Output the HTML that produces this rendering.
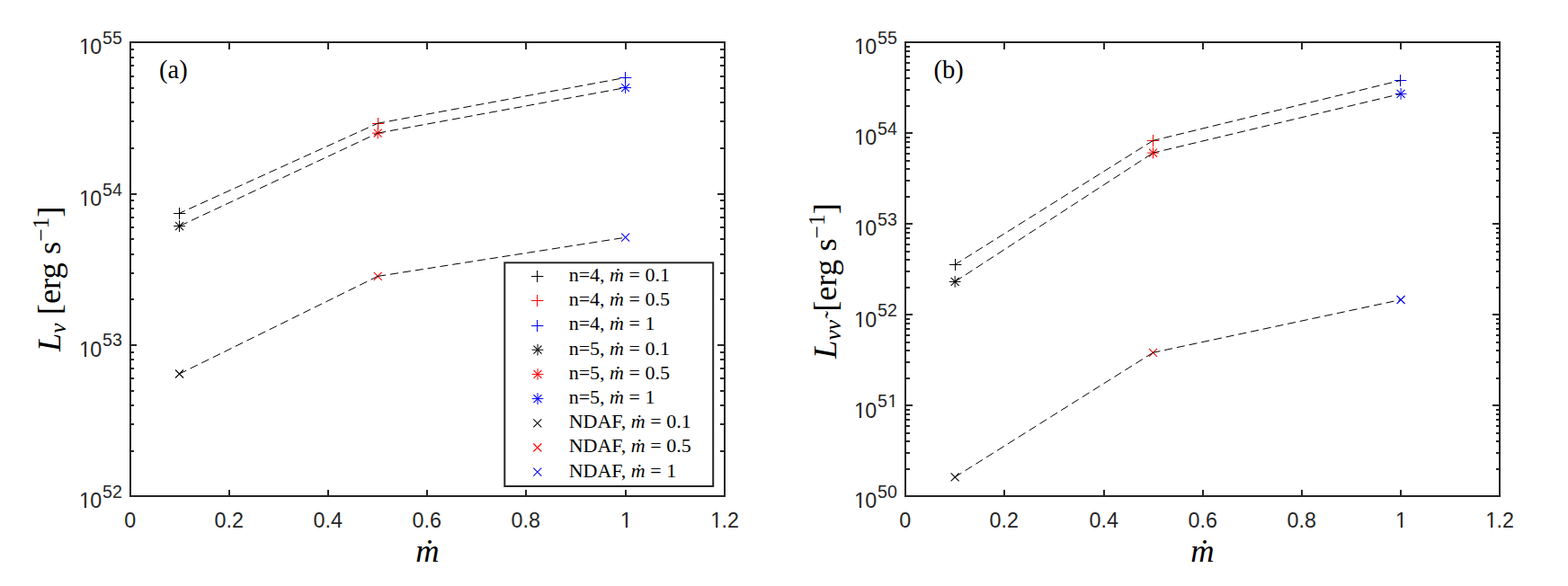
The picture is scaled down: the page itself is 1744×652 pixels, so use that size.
<!DOCTYPE html>
<html><head><meta charset="utf-8"><title>Neutrino luminosity vs accretion rate</title>
<style>
html,body{margin:0;padding:0;background:#fff;}
body{width:1744px;height:652px;overflow:hidden;font-family:"Liberation Sans",sans-serif;}
svg{display:block;}
.tk{font-family:"Liberation Sans",sans-serif;font-size:23.3px;fill:#262626;}
.sr{font-family:"Liberation Serif","DejaVu Serif",serif;fill:#000;}
</style></head>
<body>
<svg width="1744" height="652" viewBox="0 0 1744 652">
<rect width="1744" height="652" fill="#fff"/>
<path d="M193.00 237.50h13.4M199.50 231.00v13.0" stroke="#000" stroke-width="1" fill="none"/>
<path d="M414.00 137.50h13.4M420.50 131.00v13.0" stroke="#f00" stroke-width="1" fill="none"/>
<path d="M689.00 86.50h13.4M695.50 80.00v13.0" stroke="#00f" stroke-width="1" fill="none"/>
<path d="M193.15 251.60h12.8M199.55 245.20v12.8" stroke="#000" stroke-width="1" fill="none"/><path d="M195.05 247.10l9.0 9.0M195.05 256.10l9.0 -9.0" stroke="#000" stroke-width="1.08" fill="none"/>
<path d="M413.80 148.10h12.8M420.20 141.70v12.8" stroke="#f00" stroke-width="1" fill="none"/><path d="M415.70 143.60l9.0 9.0M415.70 152.60l9.0 -9.0" stroke="#f00" stroke-width="1.08" fill="none"/>
<path d="M689.25 97.60h12.8M695.65 91.20v12.8" stroke="#00f" stroke-width="1" fill="none"/><path d="M691.15 93.10l9.0 9.0M691.15 102.10l9.0 -9.0" stroke="#00f" stroke-width="1.08" fill="none"/>
<path d="M195.05 411.50l9.0 9.0M195.05 420.50l9.0 -9.0" stroke="#000" stroke-width="1.08" fill="none"/>
<path d="M415.70 302.90l9.0 9.0M415.70 311.90l9.0 -9.0" stroke="#f00" stroke-width="1.08" fill="none"/>
<path d="M691.15 259.70l9.0 9.0M691.15 268.70l9.0 -9.0" stroke="#00f" stroke-width="1.08" fill="none"/>
<line x1="199.55" y1="237.30" x2="420.20" y2="137.20" stroke="#000" stroke-width="1" stroke-dasharray="9.1 4.9" stroke-dashoffset="2.3"/>
<line x1="420.20" y1="137.20" x2="695.65" y2="86.40" stroke="#000" stroke-width="1" stroke-dasharray="9.1 4.9" stroke-dashoffset="1.2"/>
<line x1="199.55" y1="251.60" x2="420.20" y2="148.10" stroke="#000" stroke-width="1" stroke-dasharray="9.1 4.9" stroke-dashoffset="-0.8"/>
<line x1="420.20" y1="148.10" x2="695.65" y2="97.60" stroke="#000" stroke-width="1" stroke-dasharray="9.1 4.9" stroke-dashoffset="0.1"/>
<line x1="199.55" y1="416.00" x2="420.20" y2="307.40" stroke="#000" stroke-width="1" stroke-dasharray="9.1 4.9" stroke-dashoffset="0.5"/>
<line x1="420.20" y1="307.40" x2="695.65" y2="264.20" stroke="#000" stroke-width="1" stroke-dasharray="9.1 4.9" stroke-dashoffset="0.0"/>
<path d="M255 552v-7M255 47v8M365 552v-7M365 47v8M475 552v-7M475 47v8M585 552v-7M585 47v8M696 552v-7M696 47v8M145 502h4M806 502h-5M145 472h4M806 472h-5M145 451h4M806 451h-5M145 435h4M806 435h-5M145 421h4M806 421h-5M145 410h4M806 410h-5M145 400h4M806 400h-5M145 392h4M806 392h-5M145 384h7M806 384h-8M145 333h4M806 333h-5M145 304h4M806 304h-5M145 283h4M806 283h-5M145 266h4M806 266h-5M145 253h4M806 253h-5M145 242h4M806 242h-5M145 232h4M806 232h-5M145 223h4M806 223h-5M145 216h7M806 216h-8M145 165h4M806 165h-5M145 135h4M806 135h-5M145 114h4M806 114h-5M145 98h4M806 98h-5M145 85h4M806 85h-5M145 73h4M806 73h-5M145 64h4M806 64h-5M145 55h4M806 55h-5" stroke="#262626" stroke-width="2" fill="none"/>
<rect x="145" y="47" width="661" height="505" fill="none" stroke="#262626" stroke-width="2"/>
<text x="138.32" y="587" class="tk">0</text>
<text x="238.60 251.56 258.04" y="587" class="tk">0.2</text>
<text x="348.60 361.56 368.04" y="587" class="tk">0.4</text>
<text x="458.60 471.56 478.04" y="587" class="tk">0.6</text>
<text x="568.60 581.56 588.04" y="587" class="tk">0.8</text>
<text x="690.02" y="587" class="tk">1</text>
<text x="790.30 802.56 809.04" y="587" class="tk">1.2</text>
<text x="88.07 100.33" y="565" class="tk">10</text>
<text x="114.10 125.00" y="554" class="tk" style="font-size:19.6px">52</text>
<text x="88.07 100.33" y="397" class="tk">10</text>
<text x="114.10 125.00" y="385" class="tk" style="font-size:19.6px">53</text>
<text x="88.07 100.33" y="229" class="tk">10</text>
<text x="114.10 125.00" y="218" class="tk" style="font-size:19.6px">54</text>
<text x="88.07 100.33" y="60" class="tk">10</text>
<text x="114.10 125.00" y="49" class="tk" style="font-size:19.6px">55</text>
<path d="M1056.00 294.50h13.4M1062.50 288.00v13.0" stroke="#000" stroke-width="1" fill="none"/>
<path d="M1276.00 156.50h13.4M1282.50 150.00v13.0" stroke="#f00" stroke-width="1" fill="none"/>
<path d="M1551.00 89.50h13.4M1557.50 83.00v13.0" stroke="#00f" stroke-width="1" fill="none"/>
<path d="M1055.75 313.40h12.8M1062.15 307.00v12.8" stroke="#000" stroke-width="1" fill="none"/><path d="M1057.65 308.90l9.0 9.0M1057.65 317.90l9.0 -9.0" stroke="#000" stroke-width="1.08" fill="none"/>
<path d="M1276.10 170.10h12.8M1282.50 163.70v12.8" stroke="#f00" stroke-width="1" fill="none"/><path d="M1278.00 165.60l9.0 9.0M1278.00 174.60l9.0 -9.0" stroke="#f00" stroke-width="1.08" fill="none"/>
<path d="M1551.70 104.40h12.8M1558.10 98.00v12.8" stroke="#00f" stroke-width="1" fill="none"/><path d="M1553.60 99.90l9.0 9.0M1553.60 108.90l9.0 -9.0" stroke="#00f" stroke-width="1.08" fill="none"/>
<path d="M1057.65 526.30l9.0 9.0M1057.65 535.30l9.0 -9.0" stroke="#000" stroke-width="1.08" fill="none"/>
<path d="M1278.00 387.80l9.0 9.0M1278.00 396.80l9.0 -9.0" stroke="#f00" stroke-width="1.08" fill="none"/>
<path d="M1553.60 329.00l9.0 9.0M1553.60 338.00l9.0 -9.0" stroke="#00f" stroke-width="1.08" fill="none"/>
<line x1="1062.15" y1="294.40" x2="1282.50" y2="156.40" stroke="#000" stroke-width="1" stroke-dasharray="9.1 4.9" stroke-dashoffset="0.8"/>
<line x1="1282.50" y1="156.40" x2="1558.10" y2="89.40" stroke="#000" stroke-width="1" stroke-dasharray="9.1 4.9" stroke-dashoffset="1.8"/>
<line x1="1062.15" y1="313.40" x2="1282.50" y2="170.10" stroke="#000" stroke-width="1" stroke-dasharray="9.1 4.9" stroke-dashoffset="-0.1"/>
<line x1="1282.50" y1="170.10" x2="1558.10" y2="104.40" stroke="#000" stroke-width="1" stroke-dasharray="9.1 4.9" stroke-dashoffset="1.8"/>
<line x1="1062.15" y1="530.80" x2="1282.50" y2="392.30" stroke="#000" stroke-width="1" stroke-dasharray="9.1 4.9" stroke-dashoffset="0.6"/>
<line x1="1282.50" y1="392.30" x2="1558.10" y2="333.50" stroke="#000" stroke-width="1" stroke-dasharray="9.1 4.9" stroke-dashoffset="1.05"/>
<path d="M1117 552v-7M1117 47v8M1228 552v-7M1228 47v8M1338 552v-7M1338 47v8M1448 552v-7M1448 47v8M1558 552v-7M1558 47v8M1007 522h5M1668 522h-4M1007 504h5M1668 504h-4M1007 491h5M1668 491h-4M1007 482h5M1668 482h-4M1007 474h5M1668 474h-4M1007 467h5M1668 467h-4M1007 461h5M1668 461h-4M1007 456h5M1668 456h-4M1007 451h8M1668 451h-8M1007 421h5M1668 421h-4M1007 403h5M1668 403h-4M1007 390h5M1668 390h-4M1007 381h5M1668 381h-4M1007 373h5M1668 373h-4M1007 366h5M1668 366h-4M1007 360h5M1668 360h-4M1007 355h5M1668 355h-4M1007 350h8M1668 350h-8M1007 320h5M1668 320h-4M1007 302h5M1668 302h-4M1007 289h5M1668 289h-4M1007 280h5M1668 280h-4M1007 272h5M1668 272h-4M1007 265h5M1668 265h-4M1007 259h5M1668 259h-4M1007 254h5M1668 254h-4M1007 249h8M1668 249h-8M1007 219h5M1668 219h-4M1007 201h5M1668 201h-4M1007 188h5M1668 188h-4M1007 179h5M1668 179h-4M1007 171h5M1668 171h-4M1007 164h5M1668 164h-4M1007 158h5M1668 158h-4M1007 153h5M1668 153h-4M1007 148h8M1668 148h-8M1007 118h5M1668 118h-4M1007 100h5M1668 100h-4M1007 87h5M1668 87h-4M1007 78h5M1668 78h-4M1007 70h5M1668 70h-4M1007 63h5M1668 63h-4M1007 57h5M1668 57h-4M1007 52h5M1668 52h-4" stroke="#262626" stroke-width="2" fill="none"/>
<rect x="1007" y="47" width="661" height="505" fill="none" stroke="#262626" stroke-width="2"/>
<text x="1000.32" y="587" class="tk">0</text>
<text x="1100.60 1113.56 1120.04" y="587" class="tk">0.2</text>
<text x="1211.60 1224.56 1231.04" y="587" class="tk">0.4</text>
<text x="1321.60 1334.56 1341.04" y="587" class="tk">0.6</text>
<text x="1431.60 1444.56 1451.04" y="587" class="tk">0.8</text>
<text x="1552.02" y="587" class="tk">1</text>
<text x="1652.30 1664.56 1671.04" y="587" class="tk">1.2</text>
<text x="950.07 962.33" y="565" class="tk">10</text>
<text x="976.10 987.00" y="554" class="tk" style="font-size:19.6px">50</text>
<text x="950.07 962.33" y="465" class="tk">10</text>
<text x="976.10 987.60" y="453" class="tk" style="font-size:19.6px">51</text>
<text x="950.07 962.33" y="364" class="tk">10</text>
<text x="976.10 987.00" y="352" class="tk" style="font-size:19.6px">52</text>
<text x="950.07 962.33" y="262" class="tk">10</text>
<text x="976.10 987.00" y="251" class="tk" style="font-size:19.6px">53</text>
<text x="950.07 962.33" y="161" class="tk">10</text>
<text x="976.10 987.00" y="150" class="tk" style="font-size:19.6px">54</text>
<text x="950.07 962.33" y="60" class="tk">10</text>
<text x="976.10 987.00" y="49" class="tk" style="font-size:19.6px">55</text>
<rect x="691.00" y="584.66" width="4.78" height="3.04" fill="#fff"/><rect x="698.04" y="584.66" width="4.70" height="3.04" fill="#fff"/>
<rect x="791.28" y="584.66" width="4.78" height="3.04" fill="#fff"/><rect x="798.32" y="584.66" width="4.70" height="3.04" fill="#fff"/>
<rect x="89.05" y="562.66" width="4.78" height="3.04" fill="#fff"/><rect x="96.09" y="562.66" width="4.70" height="3.04" fill="#fff"/>
<rect x="89.05" y="394.66" width="4.78" height="3.04" fill="#fff"/><rect x="96.09" y="394.66" width="4.70" height="3.04" fill="#fff"/>
<rect x="89.05" y="226.66" width="4.78" height="3.04" fill="#fff"/><rect x="96.09" y="226.66" width="4.70" height="3.04" fill="#fff"/>
<rect x="89.05" y="57.66" width="4.78" height="3.04" fill="#fff"/><rect x="96.09" y="57.66" width="4.70" height="3.04" fill="#fff"/>
<rect x="1553.00" y="584.66" width="4.78" height="3.04" fill="#fff"/><rect x="1560.04" y="584.66" width="4.70" height="3.04" fill="#fff"/>
<rect x="1653.28" y="584.66" width="4.78" height="3.04" fill="#fff"/><rect x="1660.32" y="584.66" width="4.70" height="3.04" fill="#fff"/>
<rect x="951.05" y="562.66" width="4.78" height="3.04" fill="#fff"/><rect x="958.09" y="562.66" width="4.70" height="3.04" fill="#fff"/>
<rect x="951.05" y="462.66" width="4.78" height="3.04" fill="#fff"/><rect x="958.09" y="462.66" width="4.70" height="3.04" fill="#fff"/>
<rect x="988.29" y="450.94" width="4.14" height="2.76" fill="#fff"/><rect x="994.36" y="450.94" width="4.08" height="2.76" fill="#fff"/>
<rect x="951.05" y="361.66" width="4.78" height="3.04" fill="#fff"/><rect x="958.09" y="361.66" width="4.70" height="3.04" fill="#fff"/>
<rect x="951.05" y="259.66" width="4.78" height="3.04" fill="#fff"/><rect x="958.09" y="259.66" width="4.70" height="3.04" fill="#fff"/>
<rect x="951.05" y="158.66" width="4.78" height="3.04" fill="#fff"/><rect x="958.09" y="158.66" width="4.70" height="3.04" fill="#fff"/>
<rect x="951.05" y="57.66" width="4.78" height="3.04" fill="#fff"/><rect x="958.09" y="57.66" width="4.70" height="3.04" fill="#fff"/>
<text class="sr" x="177.10" y="87.45" font-size="28.5">(a)</text>
<text class="sr" x="1038.50" y="87.45" font-size="28.5">(b)</text>
<text class="sr" x="475.5" y="625.20" font-size="36.5" font-style="italic" text-anchor="middle">ṁ</text>
<text class="sr" x="1337.5" y="625.20" font-size="36.5" font-style="italic" text-anchor="middle">ṁ</text>
<text class="sr" transform="translate(67.00,391.00) rotate(-90)" font-size="36.5"><tspan font-style="italic">L</tspan><tspan font-style="italic" font-size="25.5" dy="5.5">ν</tspan><tspan dy="-5.5"> [erg s</tspan><tspan font-size="25.5" dy="-13.2">−1</tspan><tspan dy="13.2">]</tspan></text>
<text class="sr" transform="translate(929.70,398.90) rotate(-90)" font-size="36.5"><tspan font-style="italic">L</tspan><tspan font-style="italic" font-size="25.5" dy="5.5">νν̃</tspan><tspan dy="-5.5"> [erg s</tspan><tspan font-size="25.5" dy="-13.2">−1</tspan><tspan dy="13.2">]</tspan></text>
<rect x="561.3" y="292.3" width="231.9000000000001" height="248.7" fill="#fff" stroke="#262626" stroke-width="2"/>
<path d="M591.00 307.50h13.4M597.50 301.00v13.0" stroke="#000" stroke-width="1" fill="none"/>
<text class="sr" x="632.70" y="313.00" font-size="22">n=4, <tspan font-style="italic">ṁ</tspan> = 0.1</text>
<path d="M591.00 334.50h13.4M597.50 328.00v13.0" stroke="#f00" stroke-width="1" fill="none"/>
<text class="sr" x="632.70" y="340.20" font-size="22">n=4, <tspan font-style="italic">ṁ</tspan> = 0.5</text>
<path d="M591.00 362.50h13.4M597.50 356.00v13.0" stroke="#00f" stroke-width="1" fill="none"/>
<text class="sr" x="632.70" y="367.40" font-size="22">n=4, <tspan font-style="italic">ṁ</tspan> = 1</text>
<path d="M591.60 389.20h12.8M598.00 382.80v12.8" stroke="#000" stroke-width="1" fill="none"/><path d="M593.50 384.70l9.0 9.0M593.50 393.70l9.0 -9.0" stroke="#000" stroke-width="1.08" fill="none"/>
<text class="sr" x="632.70" y="394.60" font-size="22">n=5, <tspan font-style="italic">ṁ</tspan> = 0.1</text>
<path d="M591.60 416.40h12.8M598.00 410.00v12.8" stroke="#f00" stroke-width="1" fill="none"/><path d="M593.50 411.90l9.0 9.0M593.50 420.90l9.0 -9.0" stroke="#f00" stroke-width="1.08" fill="none"/>
<text class="sr" x="632.70" y="421.80" font-size="22">n=5, <tspan font-style="italic">ṁ</tspan> = 0.5</text>
<path d="M591.60 443.60h12.8M598.00 437.20v12.8" stroke="#00f" stroke-width="1" fill="none"/><path d="M593.50 439.10l9.0 9.0M593.50 448.10l9.0 -9.0" stroke="#00f" stroke-width="1.08" fill="none"/>
<text class="sr" x="632.70" y="449.00" font-size="22">n=5, <tspan font-style="italic">ṁ</tspan> = 1</text>
<path d="M593.30 466.30l9.0 9.0M593.30 475.30l9.0 -9.0" stroke="#000" stroke-width="1.08" fill="none"/>
<text class="sr" x="632.70" y="476.20" font-size="22">NDAF, <tspan font-style="italic">ṁ</tspan> = 0.1</text>
<path d="M593.30 493.50l9.0 9.0M593.30 502.50l9.0 -9.0" stroke="#f00" stroke-width="1.08" fill="none"/>
<text class="sr" x="632.70" y="503.40" font-size="22">NDAF, <tspan font-style="italic">ṁ</tspan> = 0.5</text>
<path d="M593.30 520.70l9.0 9.0M593.30 529.70l9.0 -9.0" stroke="#00f" stroke-width="1.08" fill="none"/>
<text class="sr" x="632.70" y="530.60" font-size="22">NDAF, <tspan font-style="italic">ṁ</tspan> = 1</text>
</svg>
</body></html>
